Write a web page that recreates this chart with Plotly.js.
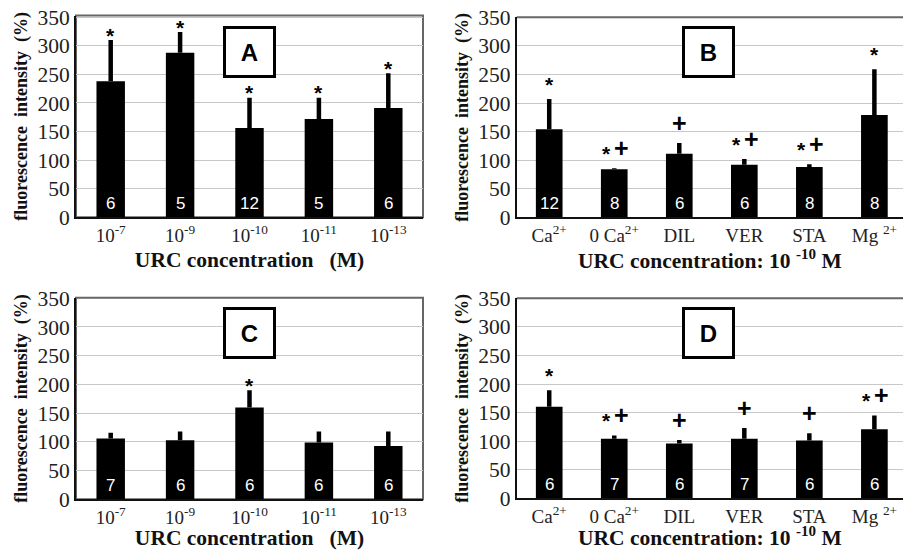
<!DOCTYPE html>
<html>
<head>
<meta charset="utf-8">
<script src="https://cdn.plot.ly/plotly-3.0.1.min.js"></script>
<style>html,body{margin:0;padding:0;background:#fff;}#chart{width:903px;height:550px;}</style>
</head>
<body>
<div id="chart"></div>
<script>
// ---- data ----
const concCats = ['10<sup>-7</sup>', '10<sup>-9</sup>', '10<sup>-10</sup>', '10<sup>-11</sup>', '10<sup>-13</sup>'];
const ionCats = ['Ca<sup>2+</sup>', '0 Ca<sup>2+</sup>', 'DIL', 'VER', 'STA', 'Mg <sup>2+</sup>'];

const meanA = [238, 288, 156, 172, 191];
const errTopA = [310, 324, 209, 209, 252];
const nA = [6, 5, 12, 5, 6];
const starA = [1, 1, 1, 1, 1];
const plusA = [0, 0, 0, 0, 0];

const meanB = [154, 84, 111, 92, 88, 179];
const errTopB = [207, 86, 130, 102, 93, 259];
const nB = [12, 8, 6, 6, 8, 8];
const starB = [1, 1, 0, 1, 1, 1];
const plusB = [0, 1, 1, 1, 1, 0];

const meanC = [106, 103, 160, 99, 93];
const errTopC = [116, 118, 190, 118, 118];
const nC = [7, 6, 6, 6, 6];
const starC = [0, 0, 1, 0, 0];
const plusC = [0, 0, 0, 0, 0];

const meanD = [160, 104, 96, 104, 101, 121];
const errTopD = [189, 110, 102, 123, 114, 145];
const nD = [6, 7, 6, 7, 6, 6];
const starD = [1, 1, 0, 0, 0, 1];
const plusD = [0, 1, 1, 1, 1, 1];

const panelLetters = ['A', 'B', 'C', 'D'];
const yTitle = 'fluorescence\u00A0\u00A0intensity\u00A0\u00A0(%)';
const xTitleConc = 'URC concentration\u00A0\u00A0\u00A0(M)';
const xTitleIon = 'URC concentration: 10 <sup>-10</sup> M';

// ---- build ----
const SERIF = '"Liberation Serif", "Times New Roman", serif';
const SANS = '"Liberation Sans", Arial, sans-serif';

const panels = [
  {cats: concCats, mean: meanA, top: errTopA, n: nA, star: starA, plus: plusA, xa: 'x', ya: 'y', sShift: 5, pShift: 11, boxX: 2, boxY: 0.817},
  {cats: ionCats, mean: meanB, top: errTopB, n: nB, star: starB, plus: plusB, xa: 'x2', ya: 'y2', sShift: 15, pShift: 20, boxX: 2.45, boxY: 0.824},
  {cats: concCats, mean: meanC, top: errTopC, n: nC, star: starC, plus: plusC, xa: 'x3', ya: 'y3', sShift: 5, pShift: 11, boxX: 2, boxY: 0.827},
  {cats: ionCats, mean: meanD, top: errTopD, n: nD, star: starD, plus: plusD, xa: 'x4', ya: 'y4', sShift: 15, pShift: 20, boxX: 2.45, boxY: 0.829}
];

const traces = [];
const annotations = [];
const shapes = [];

panels.forEach((p, k) => {
  traces.push({
    type: 'bar', x: p.cats, y: p.mean, xaxis: p.xa, yaxis: p.ya,
    width: 0.41,
    marker: {color: '#000', line: {width: 0}},
    error_y: {type: 'data', symmetric: false,
      array: p.top.map((t, i) => t - p.mean[i]),
      arrayminus: p.mean.map(() => 0),
      color: '#000', thickness: 4.5, width: 0},
    hoverinfo: 'none', showlegend: false
  });
  p.cats.forEach((c, i) => {
    // n labels
    annotations.push({x: c, y: 0, xref: p.xa, yref: p.ya, yanchor: 'middle', yshift: 14,
      text: String(p.n[i]), showarrow: false, font: {family: SANS, size: 17, color: '#fff'}});
    const both = p.star[i] && p.plus[i];
    if (p.star[i]) {
      annotations.push({x: c, y: p.top[i], xref: p.xa, yref: p.ya, yanchor: 'middle',
        yshift: p.sShift, xshift: both ? -8 : 0,
        text: '<b>*</b>', showarrow: false, font: {family: SANS, size: 21, color: '#000'}});
    }
    if (p.plus[i]) {
      annotations.push({x: c, y: p.top[i], xref: p.xa, yref: p.ya, yanchor: 'middle',
        yshift: p.pShift, xshift: both ? 7 : 0,
        text: '<b>+</b>', showarrow: false, font: {family: SANS, size: 25, color: '#000'}});
    }
  });
  // panel letter box
  annotations.push({x: p.boxX, y: p.boxY, xref: p.xa, yref: p.ya + ' domain', yanchor: 'middle', xanchor: 'center',
    text: '<b>' + panelLetters[k] + '</b>', showarrow: false, font: {family: SANS, size: 24, color: '#000'},
    bgcolor: '#fff', bordercolor: '#000', borderwidth: 3, borderpad: 0, width: 47, height: 46});
  // gray top/right frame
  if (k % 2 === 0) {
    shapes.push({type: 'rect', xref: p.xa + ' domain', yref: p.ya + ' domain', x0: 0, x1: 1, y0: 0, y1: 1,
      line: {color: '#666', width: 2}, layer: 'below'});
  } else {
    shapes.push({type: 'line', xref: p.xa + ' domain', yref: p.ya + ' domain', x0: 0, x1: 1, y0: 1, y1: 1,
      line: {color: '#666', width: 2}, layer: 'below'});
  }
});

function xAxis(domain, anchor, title, range) {
  return {domain: domain, anchor: anchor, type: 'category', range: range,
    showgrid: false, zeroline: false, showline: true, linecolor: '#111', linewidth: 2,
    ticks: '', tickfont: {family: SERIF, size: 19, color: '#222'},
    title: {text: title, font: {family: SERIF, size: 21.5, color: '#111', weight: 'bold'}, standoff: 7},
    fixedrange: true};
}
function yAxis(domain, anchor, maxv) {
  return {domain: domain, anchor: anchor, range: [0, maxv], tickvals: [0, 50, 100, 150, 200, 250, 300, 350],
    showgrid: true, gridcolor: '#c8c8c8', gridwidth: 1, zeroline: false,
    showline: true, linecolor: '#111', linewidth: 2, ticks: '',
    tickfont: {family: SERIF, size: 21.5, color: '#222'},
    title: {text: yTitle, font: {family: SERIF, size: 18, color: '#111', weight: 'bold'}, standoff: 5},
    fixedrange: true};
}

const xL = [76 / 903, 423 / 903];
const xR = [516.7 / 903, 1];

const layout = {
  width: 903, height: 550,
  margin: {l: 0, r: 0, t: 0, b: 0},
  paper_bgcolor: '#fff', plot_bgcolor: '#fff',
  showlegend: false,
  xaxis: xAxis(xL, 'y', xTitleConc, [-0.5, 4.5]),
  yaxis: yAxis([1 - 217.3 / 550, 1 - 15.5 / 550], 'x', 353),
  xaxis2: xAxis(xR, 'y2', xTitleIon, [-0.5, 5.44]),
  yaxis2: yAxis([1 - 217.3 / 550, 1 - 17.3 / 550], 'x2', 350),
  xaxis3: xAxis(xL, 'y3', xTitleConc, [-0.5, 4.5]),
  yaxis3: yAxis([1 - 499.3 / 550, 1 - 297.7 / 550], 'x3', 351),
  xaxis4: xAxis(xR, 'y4', xTitleIon, [-0.5, 5.44]),
  yaxis4: yAxis([1 - 498.3 / 550, 1 - 298.3 / 550], 'x4', 350),
  annotations: annotations,
  shapes: shapes
};

Plotly.newPlot('chart', traces, layout, {displayModeBar: false, staticPlot: true});
</script>
</body>
</html>
